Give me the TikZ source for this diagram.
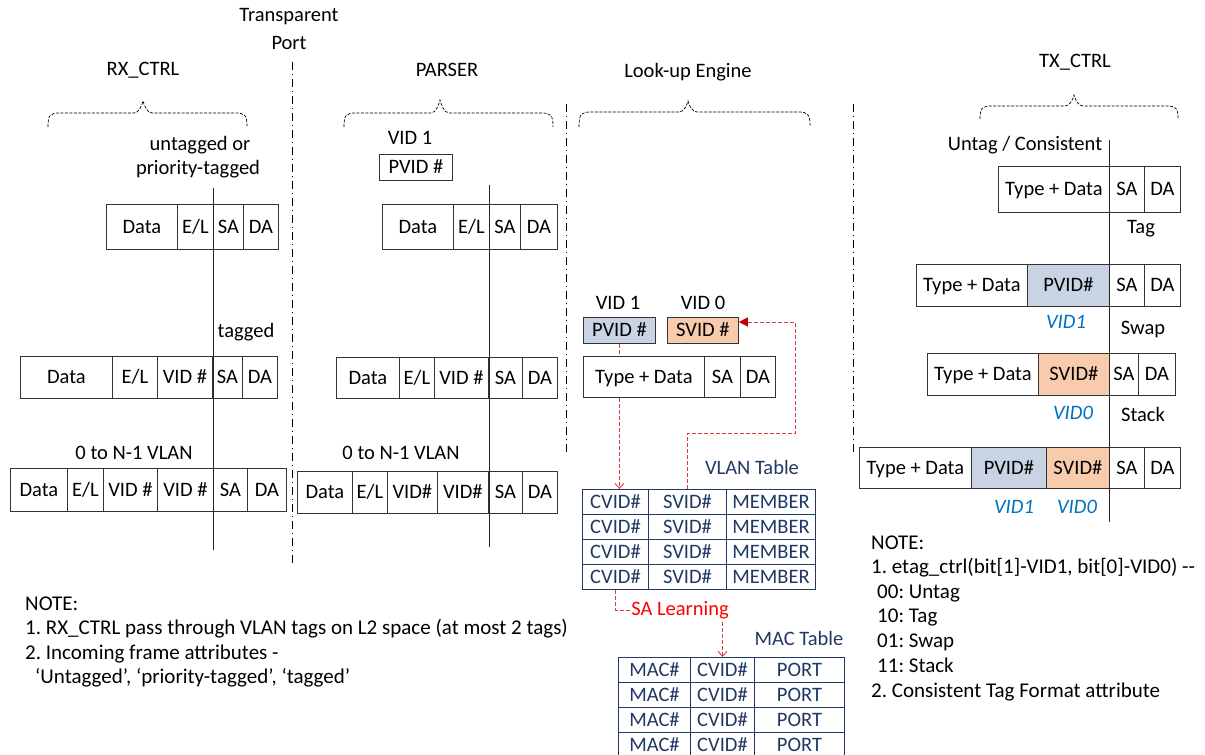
\documentclass[tikz,border=0pt]{standalone}
\usepackage{fontspec}
\setmainfont{Carlito}
\usetikzlibrary{arrows.meta}
\frenchspacing
\definecolor{tblue}{HTML}{203864}
\definecolor{pvidc}{HTML}{C8D4E4}
\definecolor{svidc}{HTML}{F8CBAD}
\definecolor{vidblue}{HTML}{0070C0}
\definecolor{lnred}{HTML}{E03C3C}
\definecolor{darkred}{HTML}{C00000}
\pgfdeclarelayer{bg}
\pgfsetlayers{bg,main}
% #1 options, #2 name, #3 top-left corner, #4 width, #5 height, #6 text
\newcommand\fcell[6][]{\node[cell,minimum width=#4,minimum height=#5,anchor=north west,#1] (#2) at (#3) {#6};}
% dashed curly brace: x1, x2, xtip, ytip, yhoriz, yend
\newcommand\dbrace[6]{\draw[bracestyle] (#1,#6) .. controls (#1,#5+2) and (#1+2,#5) .. (#1+12,#5) -- (#3-9,#5) .. controls (#3-4,#5) and (#3-1,#4+4) .. (#3,#4) .. controls (#3+1,#4+4) and (#3+4,#5) .. (#3+9,#5) -- (#2-12,#5) .. controls (#2-2,#5) and (#2,#5+2) .. (#2,#6);}
\begin{document}
\begin{tikzpicture}[x=1pt,y=-1pt,font=\fontsize{20.5}{24}\selectfont,
  cell/.style={draw=black!80,line width=0.8pt,inner sep=0pt,text height=16pt,text depth=3pt,fill=white},
  tcell/.style={cell,draw=tblue,text=tblue,line width=1pt},
  lbl/.style={inner sep=0pt},
  vidlbl/.style={inner sep=0pt,text=vidblue,font=\fontsize{20.5}{24}\selectfont\itshape},
  note/.style={anchor=base west,inner sep=0pt,font=\fontsize{21}{25}\selectfont},
  sepline/.style={line width=0.9pt,dash pattern=on 8pt off 4pt on 1pt off 4pt},
  bracestyle/.style={line width=0.7pt,dash pattern=on 3pt off 1.5pt},
  axisline/.style={line width=0.9pt,black!85},
  reddash/.style={lnred,line width=0.9pt,dash pattern=on 4pt off 2pt}]
\useasboundingbox (0,0) rectangle (1205,755);

% ---------- separators ----------
\draw[sepline] (292,62) -- (292,565);
\draw[sepline] (566,104) -- (566,455);
\draw[sepline] (853,104) -- (853,455);

% ---------- titles and braces ----------
\node[lbl] (trx) at (143,70) {RX\_CTRL};
\node[lbl] (ttp1) at (289,17) {Transparent};
\node[lbl] (ttp2) at (289,43) {Port};
\node[lbl] (tpa) at (447,70) {PARSER};
\node[lbl] (tlu) at (688,72) {Look-up Engine};
\node[lbl] (ttx) at (1075,62) {TX\_CTRL};
\dbrace{48}{247}{143}{101}{113}{127}
\dbrace{344}{553}{440}{100}{113}{127}
\dbrace{579}{810}{688}{101}{112}{127}
\dbrace{980}{1178}{1074}{95}{106}{119}

% ---------- RX_CTRL ----------
\node[lbl] (rxu1) at (200,145) {untagged or};
\node[lbl] (rxu2) at (198,169) {priority-tagged};
\fcell{r1a}{106,204}{71}{45}{Data}
\fcell{r1b}{177,204}{36}{45}{E/L}
\fcell{r1c}{213,204}{30}{45}{SA}
\fcell{r1d}{243,204}{35}{45}{DA}
\node[lbl] (rxtg) at (246,332) {tagged};
\fcell{r2a}{20,356}{92}{42}{Data}
\fcell{r2b}{112,356}{45}{42}{E/L}
\fcell{r2c}{157,356}{55}{42}{VID \#}
\fcell{r2d}{212,356}{30}{42}{SA}
\fcell{r2e}{242,356}{35}{42}{DA}
\node[lbl] (rxvl) at (134,453) {0 to N-1 VLAN};
\fcell{r3a}{10,468}{57}{43}{Data}
\fcell{r3b}{67,468}{36}{43}{E/L}
\fcell{r3c}{103,468}{54}{43}{VID \#}
\fcell{r3d}{157,468}{56}{43}{VID \#}
\fcell{r3e}{213,468}{34}{43}{SA}
\fcell{r3f}{247,468}{39}{43}{DA}
\coordinate (rxtop) at (213,188);
\coordinate (rxbot) at (213,550);
\draw[axisline] (rxtop) -- (rxbot);

% ---------- PARSER ----------
\node[lbl] (pav1) at (410,138) {VID 1};
\fcell{papv}{379,154}{73}{26}{PVID \#}
\fcell{p1a}{382,204}{71}{45}{Data}
\fcell{p1b}{453,204}{36}{45}{E/L}
\fcell{p1c}{489,204}{31}{45}{SA}
\fcell{p1d}{520,204}{37}{45}{DA}
\fcell{p2a}{336,357}{63}{41}{Data}
\fcell{p2b}{399,357}{35}{41}{E/L}
\fcell{p2c}{434,357}{54}{41}{VID \#}
\fcell{p2d}{488,357}{34}{41}{SA}
\fcell{p2e}{522,357}{35}{41}{DA}
\node[lbl] (pavl) at (401,453) {0 to N-1 VLAN};
\fcell{p3a}{297,471}{55}{42}{Data}
\fcell{p3b}{352,471}{35}{42}{E/L}
\fcell{p3c}{387,471}{50}{42}{VID\#}
\fcell{p3d}{437,471}{51}{42}{VID\#}
\fcell{p3e}{488,471}{34}{42}{SA}
\fcell{p3f}{522,471}{35}{42}{DA}
\coordinate (patop) at (489,185);
\coordinate (pabot) at (489,547);
\draw[axisline] (patop) -- (pabot);

% ---------- Look-up Engine ----------
\node[lbl] (luv1) at (618,303) {VID 1};
\node[lbl] (luv0) at (703,303) {VID 0};
\fcell[fill=pvidc]{pvidL}{583,317}{72}{26}{PVID \#}
\fcell[fill=svidc]{svidL}{667,317}{71}{26}{SVID \#}
\fcell{l1a}{583,356}{121}{41}{Type + Data}
\fcell{l1b}{704,356}{36}{41}{SA}
\fcell{l1c}{740,356}{35}{41}{DA}
\node[lbl,text=tblue] (vlt) at (752,467) {VLAN Table};
\foreach \r/\y in {1/489,2/514,3/539,4/564}{
  \fcell[tcell]{vt\r1}{582,\y}{66}{25}{CVID\#}
  \fcell[tcell]{vt\r2}{648,\y}{78}{25}{SVID\#}
  \fcell[tcell]{vt\r3}{726,\y}{89}{25}{MEMBER}
}
\node[lbl,text=red] (sal) at (680,610) {SA Learning};
\node[lbl,text=tblue] (mact) at (799,638) {MAC Table};
\foreach \r/\y in {1/657,2/682,3/707,4/732}{
  \fcell[tcell]{mt\r1}{618,\y}{72}{25}{MAC\#}
  \fcell[tcell]{mt\r2}{690,\y}{64}{25}{CVID\#}
  \fcell[tcell]{mt\r3}{754,\y}{90}{25}{PORT}
}
\coordinate (loopb) at (795,433);
\coordinate (loopt) at (795,322);
\begin{pgfonlayer}{bg}
\draw[reddash,-{Straight Barb[length=5pt,width=9pt]}] (pvidL.south) -- (pvidL.south |- vt11.north);
\end{pgfonlayer}
\draw[reddash,-{Triangle[length=9pt,width=9pt,fill=darkred,color=darkred,sep=0pt]}] (vt12.north) |- (loopb) -- (loopt) -- (svidL.east |- loopt);
\draw[reddash] (vt41.south) |- (sal.west);
\draw[reddash,-{Straight Barb[length=5pt,width=9pt]}] (mt12.north |- sal.south) ++(0,3) -- (mt12.north);

% ---------- TX_CTRL ----------
\node[lbl] (txuc) at (1025,145) {Untag / Consistent};
\fcell{u1a}{998,166}{111}{46}{Type + Data}
\fcell{u1b}{1109,166}{35}{46}{SA}
\fcell{u1c}{1144,166}{36}{46}{DA}
\node[lbl] (txtag) at (1141,229) {Tag};
\fcell{t1a}{916,264}{111}{42}{Type + Data}
\fcell[fill=pvidc]{t1b}{1027,264}{82}{42}{PVID\#}
\fcell{t1c}{1109,264}{35}{42}{SA}
\fcell{t1d}{1144,264}{36}{42}{DA}
\node[vidlbl] (tv1) at (1066,322) {VID1};
\node[lbl] (txsw) at (1143,329) {Swap};
\fcell{s1a}{927,353}{111}{42}{Type + Data}
\fcell[fill=svidc]{s1b}{1038,353}{71}{42}{SVID\#}
\fcell{s1c}{1109,353}{29}{42}{SA}
\fcell{s1d}{1138,353}{37}{42}{DA}
\node[vidlbl] (sv0) at (1073,413) {VID0};
\node[lbl] (txst) at (1143,414) {Stack};
\fcell{k1a}{859,447}{112}{41}{Type + Data}
\fcell[fill=pvidc]{k1b}{971,447}{75}{41}{PVID\#}
\fcell[fill=svidc]{k1c}{1046,447}{63}{41}{SVID\#}
\fcell{k1d}{1109,447}{35}{41}{SA}
\fcell{k1e}{1144,447}{36}{41}{DA}
\node[vidlbl] (kv1) at (1014,507) {VID1};
\node[vidlbl] (kv0) at (1077,507) {VID0};
\coordinate (txtop) at (1109,140);
\coordinate (txbot) at (1109,522);
\draw[axisline] (txtop) -- (txbot);

% ---------- notes ----------
\node[note] (nl0) at (25,610) {NOTE:};
\node[note] (nl1) at (25,634.5) {1. RX\_CTRL pass through VLAN tags on L2 space (at most 2 tags)};
\node[note] (nl2) at (25,659) {2. Incoming frame attributes -};
\node[note] (nl3) at (35,683.5) {‘Untagged’, ‘priority-tagged’, ‘tagged’};
\node[note] (nr0) at (871,549) {NOTE:};
\node[note] (nr1) at (871,573.5) {1. etag\_ctrl(bit[1]-VID1, bit[0]-VID0) -{}-};
\node[note] (nr2) at (877,598) {00: Untag};
\node[note] (nr3) at (877,622.5) {10: Tag};
\node[note] (nr4) at (877,647) {01: Swap};
\node[note] (nr5) at (877,672) {11: Stack};
\node[note] (nr6) at (871,697) {2. Consistent Tag Format attribute};
\end{tikzpicture}
\end{document}
